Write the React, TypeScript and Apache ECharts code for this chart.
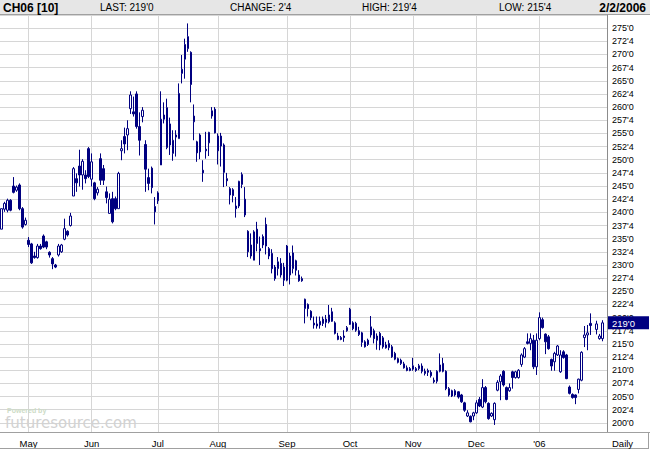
import React, { useEffect, useRef } from 'react';
import * as echarts from 'echarts';

const FONT = '"Liberation Sans", Arial, sans-serif';
const NAVY = '#000080';
const GRID = '#d6d6d6';

const symbolLabel = 'CH06 [10]';
const dateLabel = '2/2/2006';
const periodLabel = 'Daily';

const months = ['Apr', 'May', 'Jun', 'Jul', 'Aug', 'Sep', 'Oct', 'Nov', 'Dec', 'Jan', 'Feb'];
const monthLabels = ['', 'May', 'Jun', 'Jul', 'Aug', 'Sep', 'Oct', 'Nov', 'Dec', "'06", ''];
const tradingDays = [9, 21, 22, 20, 23, 21, 21, 21, 21, 20, 2];

type Bar = [number, number, number, number] | null; // open, close, low, high

const apr: Bar[] = [
  [236.8, 240.7, 236.8, 240.7], [240.6, 241.7, 240.1, 242.0], [240.4, 242.3, 240.0, 242.6],
  [242.3, 240.4, 240.2, 242.5], [245.0, 243.8, 243.6, 246.7], [244.2, 244.8, 243.9, 245.1],
  [245.2, 240.7, 240.4, 245.5], [240.7, 237.2, 236.9, 241.0], [237.7, 238.5, 237.5, 239.0],
];
const may: Bar[] = [
  [234.7, 233.9, 233.4, 235.3], [234.0, 230.4, 230.2, 234.2], [231.7, 231.4, 231.2, 232.5],
  [231.4, 233.6, 231.2, 234.0], [233.6, 233.1, 232.9, 234.0], [235.5, 233.4, 233.2, 235.8],
  [234.4, 233.4, 233.0, 234.6], [232.4, 231.9, 231.4, 232.6], [231.2, 230.2, 229.2, 231.5],
  [230.0, 229.6, 229.4, 230.2], [231.9, 233.6, 231.6, 234.0], [232.5, 233.8, 232.3, 234.0],
  [234.9, 236.9, 234.7, 238.8], [236.4, 235.7, 235.4, 236.6], [237.5, 239.3, 237.3, 239.9],
  [243.1, 248.3, 243.1, 248.6], [246.4, 245.6, 243.9, 247.4], [248.8, 247.1, 244.9, 251.9],
  [247.1, 249.7, 244.3, 250.1], [247.1, 246.4, 245.5, 248.0], [252.1, 246.8, 246.5, 252.4],
];
const jun: Bar[] = [
  [246.3, 249.6, 244.9, 251.2], [245.6, 242.6, 242.3, 245.8], [243.7, 244.4, 243.2, 244.8],
  [250.2, 246.1, 245.2, 251.2], [248.3, 246.1, 245.2, 249.0], [243.9, 242.8, 241.7, 244.9],
  [239.8, 242.5, 239.8, 243.6], [242.6, 238.2, 237.9, 243.9], [242.6, 240.7, 240.4, 243.0],
  [240.7, 247.4, 240.7, 247.7], [251.7, 252.1, 249.9, 253.7], [254.4, 253.0, 251.2, 256.1],
  [254.7, 255.9, 251.8, 257.5], [259.7, 262.3, 258.7, 263.0], [259.1, 258.7, 258.2, 262.0],
  [262.5, 256.3, 255.9, 263.0], [256.3, 253.7, 250.8, 259.0], [258.2, 259.4, 257.1, 260.0],
  [252.9, 248.2, 243.9, 253.7], [246.6, 245.5, 244.2, 248.3], [248.4, 244.7, 243.6, 248.7],
  [241.1, 240.1, 237.7, 242.9],
];
const jul: Bar[] = [
  [242.2, 243.7, 241.6, 244.0], [249.0, 257.7, 249.0, 263.0], [258.5, 257.7, 256.9, 260.9],
  [252.3, 259.9, 252.0, 261.6], [256.8, 252.8, 250.9, 258.0], [251.2, 253.7, 249.8, 255.6],
  [254.3, 254.7, 250.6, 255.6], [254.0, 262.6, 254.0, 264.5], [266.4, 267.2, 264.5, 269.9],
  [269.1, 271.9, 265.4, 273.0], [271.1, 273.4, 270.5, 275.9], [270.4, 264.3, 260.9, 270.6],
  [257.2, 258.3, 253.7, 260.5], [253.4, 251.3, 249.6, 253.6], [254.7, 251.5, 250.1, 255.0],
  [248.0, 247.5, 245.8, 249.9], [252.0, 251.7, 250.2, 255.3], [253.2, 255.2, 250.7, 255.3],
  [258.3, 259.3, 257.8, 260.0], [259.6, 255.1, 255.0, 260.0],
];
const aug: Bar[] = [
  [254.5, 251.7, 249.1, 255.0], [254.5, 252.6, 248.7, 255.1], [252.8, 247.6, 244.8, 253.1],
  [246.4, 246.0, 245.0, 247.5], [244.5, 243.3, 241.5, 244.8], [244.3, 243.2, 241.9, 244.6],
  [241.2, 240.7, 239.0, 242.9], [241.2, 245.9, 240.8, 246.0], [245.3, 247.2, 244.6, 247.6],
  [242.5, 239.5, 239.1, 244.8], [236.4, 232.5, 231.5, 236.6], [233.8, 231.7, 231.2, 236.0],
  [230.9, 236.3, 230.9, 236.6], [236.8, 234.1, 232.6, 238.2], [233.1, 232.7, 230.0, 235.4],
  [233.8, 235.4, 233.2, 235.8], [237.7, 233.6, 232.0, 239.0], [233.1, 231.7, 231.1, 233.4],
  [232.2, 229.3, 228.4, 233.0], [229.6, 227.4, 227.0, 230.0], [229.3, 230.6, 228.0, 231.5],
  [230.3, 228.1, 227.6, 231.3], [229.6, 227.1, 226.0, 230.4],
];
const sep: Bar[] = [
  [227.1, 233.6, 226.9, 233.8], [231.7, 228.1, 226.3, 232.3], [229.3, 232.3, 228.4, 233.7],
  [230.8, 229.0, 228.0, 231.0], [228.1, 227.0, 226.8, 229.0], [227.4, 227.0, 226.8, 227.8],
  [221.7, 223.5, 218.9, 223.6], [222.5, 221.7, 220.2, 222.7], [221.2, 220.0, 219.5, 221.4],
  [218.95, 218.6, 217.9, 220.2], [218.8, 218.4, 217.9, 220.2], [218.6, 219.3, 217.9, 220.2],
  [219.7, 218.9, 218.4, 220.2], [219.7, 219.1, 218.1, 220.5], [219.2, 220.5, 218.9, 222.4],
  [221.1, 219.3, 219.2, 221.85], [219.0, 217.0, 216.8, 219.3], [216.5, 215.85, 215.7, 217.1],
  [216.2, 215.85, 215.7, 216.5], [216.5, 216.2, 215.4, 217.6], [217.5, 218.1, 217.3, 218.4],
];
const oct: Bar[] = [
  [218.7, 221.6, 218.6, 221.85], [219.0, 217.9, 217.6, 219.3], [218.9, 217.6, 217.3, 219.2],
  [217.5, 216.8, 216.5, 218.25], [217.1, 215.3, 214.45, 217.3], [215.4, 214.45, 214.3, 215.7],
  [215.7, 214.9, 214.6, 216.0], [216.7, 218.25, 216.2, 220.3], [217.5, 216.0, 215.1, 217.9],
  [216.5, 215.7, 213.9, 217.0], [217.0, 214.8, 213.8, 217.3], [216.15, 214.45, 214.1, 216.5],
  [214.8, 214.25, 214.1, 215.4], [214.3, 215.1, 213.8, 215.7], [214.45, 212.55, 212.35, 214.8],
  [213.2, 212.1, 211.9, 213.5], [212.2, 211.5, 211.3, 212.4], [211.9, 211.3, 211.0, 212.2],
  [211.2, 210.45, 210.3, 211.6], [210.45, 209.95, 209.8, 210.9], [210.3, 209.95, 209.8, 210.6],
];
const nov: Bar[] = [
  [210.2, 210.85, 209.9, 212.35], [210.3, 209.95, 209.7, 210.6], [210.3, 210.85, 210.0, 211.2],
  [210.8, 209.8, 209.4, 211.3], [209.8, 209.4, 209.0, 210.3], [209.6, 209.95, 208.9, 210.3],
  [209.6, 208.95, 208.6, 210.0], [208.1, 207.8, 207.5, 208.6], [207.9, 209.8, 207.5, 210.0],
  [209.8, 211.0, 209.6, 213.2], [211.3, 209.8, 209.6, 212.35], [209.8, 206.5, 206.2, 210.0],
  [205.3, 206.5, 205.0, 206.8], [206.1, 205.1, 204.9, 206.3], [206.1, 205.3, 205.0, 206.4],
  [205.9, 204.9, 204.6, 206.0], [205.3, 204.0, 203.8, 205.5], [203.8, 202.4, 202.1, 204.0],
  [201.3, 201.9, 201.1, 202.4], [201.25, 200.2, 200.1, 201.4], [201.3, 201.9, 200.5, 202.1],
];
const dec: Bar[] = [
  [201.9, 203.8, 201.7, 204.3], [204.45, 203.2, 203.0, 204.9], [203.0, 206.7, 202.8, 208.3],
  [206.7, 204.0, 203.7, 207.0], [203.7, 200.8, 200.6, 203.9], [201.3, 201.8, 201.1, 202.0],
  [200.6, 203.7, 199.6, 203.9], [206.2, 207.7, 206.0, 208.1], [207.8, 208.9, 204.3, 209.25],
  [209.8, 207.2, 206.9, 210.0], [206.7, 204.45, 204.3, 206.9], [206.1, 206.7, 205.9, 207.5],
  [209.7, 208.6, 206.5, 209.9], [208.6, 209.7, 208.4, 209.9], [208.6, 210.0, 208.4, 210.2],
  [211.1, 212.9, 210.65, 213.2], [212.5, 214.1, 212.3, 214.4], [215.4, 215.1, 214.9, 217.0],
  [215.1, 216.0, 213.8, 217.0], [215.7, 210.65, 210.2, 216.7], [210.65, 215.7, 209.1, 217.0],
];
const jan: Bar[] = [
  [216.0, 220.0, 215.7, 221.0], [219.6, 218.1, 217.9, 220.0], [216.86, 215.4, 213.06, 217.0],
  [216.35, 214.1, 213.9, 216.7], [212.05, 210.8, 209.9, 212.2], [211.6, 213.2, 209.9, 213.5],
  [212.9, 214.6, 212.7, 214.8], [209.7, 212.9, 209.5, 213.8], [213.5, 212.4, 212.2, 213.8],
  [212.9, 208.4, 208.3, 213.1], [206.8, 205.6, 205.4, 207.1], [205.4, 204.8, 204.6, 205.6],
  [205.3, 204.8, 203.55, 205.4], [206.35, 208.3, 205.6, 208.4], [208.1, 213.4, 207.9, 213.6],
  [216.2, 216.7, 214.4, 218.4], [216.7, 217.1, 213.8, 218.6], [218.9, 218.5, 216.7, 220.8],
  null, [217.75, 218.8, 216.8, 219.4],
];
const feb: Bar[] = [
  [216.0, 216.5, 215.8, 216.9], [216.0, 219.0, 215.5, 219.5],
];

const bars: Bar[] = [...apr, ...may, ...jun, ...jul, ...aug, ...sep, ...oct, ...nov, ...dec, ...jan, ...feb];

const fmt = (v: number) => {
  const whole = Math.floor(v + 1e-9);
  const eighths = Math.round((v - whole) * 8);
  return `${whole}'${eighths}`;
};

export default function App() {
  const ref = useRef<HTMLDivElement>(null);
  useEffect(() => {
    const el = ref.current;
    if (!el) return;
    const chart = echarts.init(el, undefined, { renderer: 'svg' });

    const categories: string[] = [];
    const monthStart = new Map<number, string>();
    months.forEach((m, mi) => {
      monthStart.set(categories.length, monthLabels[mi]);
      for (let k = 1; k <= tradingDays[mi]; k++) categories.push(`${m} ${k}`);
    });
    categories.push('');
    const data: any[] = bars.map((b) => (b ? b : ['-', '-', '-', '-']));
    data.push(['-', '-', '-', '-']);
    const isLabelled = (i: number) => !!monthStart.get(i);

    const valid = bars.filter((b) => b) as [number, number, number, number][];
    const last = valid[valid.length - 1];
    const prev = valid[valid.length - 2];
    const headerItems = [
      { label: 'LAST', value: fmt(last[1]), x: 100 },
      { label: 'CHANGE', value: fmt(last[1] - prev[1]), x: 230 },
      { label: 'HIGH', value: fmt(last[3]), x: 362 },
      { label: 'LOW', value: fmt(last[2]), x: 499 },
    ];

    chart.setOption({
      animation: false,
      backgroundColor: '#ffffff',
      textStyle: { fontFamily: FONT },
      grid: { left: 0, right: 43, top: 15, height: 421, containLabel: false },
      xAxis: {
        type: 'category',
        data: categories,
        boundaryGap: true,
        axisLine: { show: false },
        axisTick: { show: false },
        axisLabel: {
          interval: (i: number) => isLabelled(i),
          formatter: (_v: string, i: number) => monthStart.get(i) || '',
          color: '#000',
          fontSize: 9.5,
          fontFamily: FONT,
          margin: 2,
        },
        splitLine: {
          show: true,
          interval: (i: number) => isLabelled(i),
          alignWithLabel: true,
          lineStyle: { color: GRID, width: 1 },
        },
      },
      yAxis: {
        type: 'value',
        position: 'right',
        min: 197.5,
        max: 277.5,
        interval: 2.5,
        axisLine: { show: false },
        axisTick: { show: false },
        axisLabel: {
          formatter: (v: number) => (v < 199.9 || v > 275.1 ? '' : fmt(v)),
          color: '#000',
          fontSize: 9,
          fontFamily: FONT,
          margin: 5,
        },
        splitLine: { show: true, lineStyle: { color: GRID, width: 1 } },
      },
      series: [
        {
          type: 'candlestick',
          data,
          barWidth: 2,
          itemStyle: {
            color: '#ffffff',
            color0: NAVY,
            borderColor: NAVY,
            borderColor0: NAVY,
            borderWidth: 1,
          },
        },
      ],
    });

    const py = chart.convertToPixel({ yAxisIndex: 0 }, last[1]) as number;
    const txt = (text: string, x: number, y: number, o: any = {}) => ({
      type: 'text',
      z: 120,
      style: {
        text,
        x,
        y,
        fill: o.fill || '#000',
        fontSize: o.fontSize || 10,
        fontWeight: o.fontWeight || 'normal',
        fontFamily: o.fontFamily || FONT,
        align: o.align || 'left',
        textAlign: o.align || 'left',
        verticalAlign: 'middle',
        textVerticalAlign: 'middle',
      },
    });

    const elements: any[] = [
      { type: 'rect', z: 100, shape: { x: 0, y: 433, width: 607, height: 5 }, style: { fill: '#ffffff' } },
      { type: 'rect', z: 100, shape: { x: 0, y: 0, width: 650, height: 14 }, style: { fill: '#e6e6e6' } },
      { type: 'line', z: 101, shape: { x1: 0, y1: 14.5, x2: 650, y2: 14.5 }, style: { stroke: '#a0a0a0', lineWidth: 1 } },
      { type: 'line', z: 101, shape: { x1: 607.5, y1: 14.5, x2: 607.5, y2: 432.5 }, style: { stroke: '#8c8c8c', lineWidth: 1 } },
      { type: 'line', z: 101, shape: { x1: 0, y1: 432.5, x2: 650, y2: 432.5 }, style: { stroke: '#a0a0a0', lineWidth: 1 } },
      { type: 'line', z: 101, shape: { x1: 0, y1: 448.5, x2: 649, y2: 448.5 }, style: { stroke: '#a0a0a0', lineWidth: 1 } },
      { type: 'line', z: 101, shape: { x1: 648.5, y1: 432.5, x2: 648.5, y2: 449 }, style: { stroke: '#a0a0a0', lineWidth: 1 } },
      txt(symbolLabel, 3, 7.5, { fontSize: 12, fontWeight: 'bold' }),
      ...headerItems.map((h) => txt(`${h.label}: ${h.value}`, h.x, 7.5, { fontSize: 10 })),
      txt(dateLabel, 646, 7.5, { fontSize: 12, fontWeight: 'bold', align: 'right' }),
      txt(periodLabel, 612, 443, { fontSize: 9.5 }),
      txt('Powered by', 7, 410, { fontSize: 7, fontWeight: 'bold', fill: '#cddbc6' }),
      txt('futuresource.com', 5, 423, { fontSize: 15, fill: '#d2d2d2', fontFamily: '"DejaVu Sans", sans-serif' }),
      { type: 'rect', z: 110, shape: { x: 608, y: py - 6.5, width: 41, height: 13 }, style: { fill: NAVY } },
      txt(fmt(last[1]), 612, py + 0.5, { fontSize: 9.5, fill: '#ffffff' }),
    ];
    chart.setOption({ graphic: { elements } });

    return () => chart.dispose();
  }, []);
  return (
    <div
      ref={ref}
      style={{ position: 'fixed', left: 0, top: 0, width: 650, height: 450, background: '#fff' }}
    />
  );
}
